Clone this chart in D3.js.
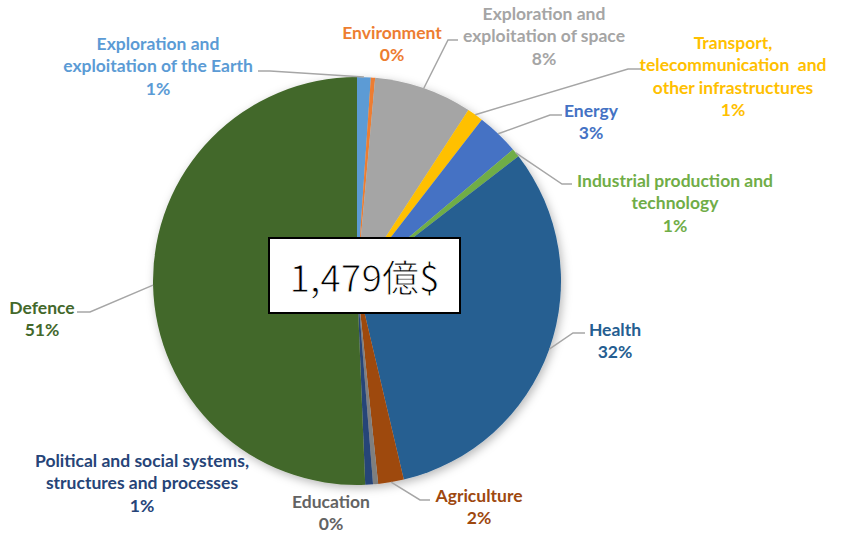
<!DOCTYPE html>
<html><head><meta charset="utf-8">
<script src="https://cdn.jsdelivr.net/npm/d3@7"></script>
<style>body{margin:0;background:#fff}svg{display:block}</style>
</head><body>
<script>
// ---- data ----
const categories = ["Exploration and exploitation of the Earth","Environment","Exploration and exploitation of space","Transport, telecommunication and other infrastructures","Energy","Industrial production and technology","Health","Agriculture","Education","Political and social systems, structures and processes","Defence"];
const values = [16, 5, 115, 19, 50, 10, 470, 30, 6, 9, 749];
const labelLines = [
  ["Exploration and","exploitation of the Earth"],
  ["Environment"],
  ["Exploration and","exploitation of space"],
  ["Transport,","telecommunication  and","other infrastructures"],
  ["Energy"],
  ["Industrial production and","technology"],
  ["Health"],
  ["Agriculture"],
  ["Education"],
  ["Political and social systems,","structures and processes"],
  ["Defence"]
];
const totalLabel = "1,479億$";

// ---- styling / layout ----
const sliceColors = ["#5B9BD5","#ED7D31","#A5A5A5","#FFC000","#4472C4","#70AD47","#255E91","#9E480E","#7F7F7F","#264478","#43682B"];
const textColors  = ["#5B9BD5","#ED7D31","#A5A5A5","#FFC000","#4472C4","#70AD47","#255E91","#9E480E","#636363","#264478","#43682B"];
const labelX = [158, 392, 544, 733, 591, 675, 615, 479, 331, 142, 42];
const labelY0 = [43, 32, 13, 42, 110, 180, 329, 495, 501, 460, 307];
const leaderPts = [
  [[258,71],[270,71]], null, [[458,40],[448,40]], [[642,69],[628,69]],
  [[562,115],[550,115]], [[572,184],[562,184]], [[585,333],[573,333]],
  [[430,500],[420,500]], null, null, [[77,312],[90,312]]
];
const W = 843, H = 533, cx = 357, cy = 281, R = 204, lineH = 22.5;

const svg = d3.select("body").append("svg").attr("width", W).attr("height", H);
const defs = svg.append("defs");
const f = defs.append("filter").attr("id","sh").attr("x","-20%").attr("y","-20%").attr("width","140%").attr("height","140%");
f.append("feDropShadow").attr("dx",2).attr("dy",3).attr("stdDeviation",5).attr("flood-color","#000").attr("flood-opacity",0.28);

const pie = d3.pie().sort(null).value(d => d)(values);
const arc = d3.arc().innerRadius(0).outerRadius(R);
const total = d3.sum(values);
const pct = d3.format(".0%");

const g = svg.append("g").attr("transform", `translate(${cx},${cy})`);
g.append("g").attr("filter","url(#sh)")
  .selectAll("path").data(pie).join("path")
  .attr("d", arc).attr("fill", (d,i) => sliceColors[i]);

// leader lines
pie.forEach((d,i) => {
  const pts = leaderPts[i];
  if (!pts) return;
  const a = (d.startAngle + d.endAngle) / 2;
  const end = [cx + R * Math.sin(a), cy - R * Math.cos(a)];
  svg.append("polyline")
    .attr("points", [pts[0], pts[1], end].map(p => p.join(",")).join(" "))
    .attr("fill","none").attr("stroke","#A6A6A6").attr("stroke-width",1.5);
});

// labels
pie.forEach((d,i) => {
  const lines = labelLines[i].concat([pct(values[i] / total)]);
  const t = svg.append("text")
    .attr("text-anchor","middle")
    .attr("font-family","Lato, 'Open Sans', sans-serif")
    .attr("font-weight","bold").attr("font-size", 17.5)
    .attr("fill", textColors[i]);
  lines.forEach((ln, k) => {
    t.append("tspan").attr("x", labelX[i]).attr("y", labelY0[i] + k * lineH)
      .attr("dominant-baseline","central").attr("xml:space","preserve").text(ln);
  });
});

// center box
svg.append("rect").attr("x",269).attr("y",238).attr("width",191).attr("height",75)
  .attr("fill","#fff").attr("stroke","#000").attr("stroke-width",2);
svg.append("text").attr("x",364.5).attr("y",276).attr("text-anchor","middle")
  .attr("dominant-baseline","central")
  .attr("font-family","'Noto Sans CJK JP', 'Noto Sans', sans-serif")
  .attr("font-size",37).attr("fill","#000")
  .attr("stroke","#fff").attr("stroke-width",0.9)
  .text(totalLabel);
</script>
</body></html>
